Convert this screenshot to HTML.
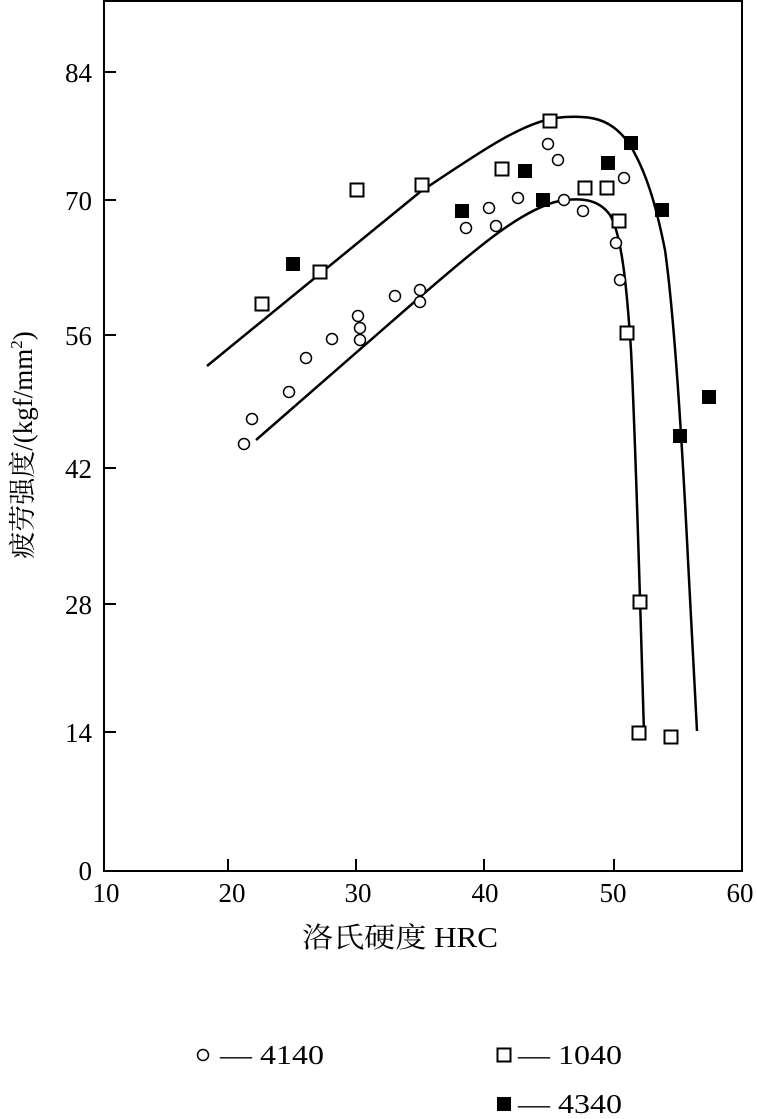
<!DOCTYPE html>
<html><head><meta charset="utf-8"><style>
body{margin:0;background:#fff}
svg text{font-family:"Liberation Serif","Noto Serif CJK SC",serif;fill:#000}
</style></head><body>
<svg width="757" height="1114" viewBox="0 0 757 1114" xmlns="http://www.w3.org/2000/svg">
<rect x="104" y="1" width="638" height="870" fill="none" stroke="#000" stroke-width="2"/>
<g stroke="#000" stroke-width="2">
<line x1="104" y1="72" x2="116" y2="72"/><line x1="104" y1="200" x2="116" y2="200"/>
<line x1="104" y1="335" x2="116" y2="335"/><line x1="104" y1="468" x2="116" y2="468"/>
<line x1="104" y1="604" x2="116" y2="604"/><line x1="104" y1="732" x2="116" y2="732"/>
<line x1="228" y1="871" x2="228" y2="859"/><line x1="356" y1="871" x2="356" y2="859"/>
<line x1="484" y1="871" x2="484" y2="859"/><line x1="614" y1="871" x2="614" y2="859"/>
</g>
<g font-size="27" text-anchor="end">
<text x="92" y="82">84</text><text x="92" y="210">70</text><text x="92" y="345">56</text>
<text x="92" y="478">42</text><text x="92" y="614">28</text><text x="92" y="742">14</text>
<text x="92" y="880">0</text>
</g>
<g font-size="27" text-anchor="middle">
<text x="106" y="902">10</text><text x="232" y="902">20</text><text x="358" y="902">30</text>
<text x="485" y="902">40</text><text x="613" y="902">50</text><text x="740" y="902">60</text>
</g>
<text x="400" y="947" font-size="28" text-anchor="middle" textLength="196" lengthAdjust="spacingAndGlyphs">洛氏硬度 HRC</text>
<text transform="translate(32,445) rotate(-90)" font-size="27" text-anchor="middle">疲劳强度/(kgf/mm<tspan font-size="17" dy="-10">2</tspan><tspan dy="10">)</tspan></text>
<g fill="none" stroke="#000" stroke-width="2.5">
<path d="M207,366 L420,192 C480,152 520,124 555,118 C590,114 612,118 630,145 C645,170 655,200 665,250 C672,300 680,400 688,560 L697,731"/>
<path d="M256,440 L420,297 C480,245 520,212 555,202 C578,197 598,198 610,215 C622,235 627,290 631,350 C636,450 640,600 644,733"/>
</g>
<g fill="#fff" stroke="#000" stroke-width="1.5">
<circle cx="244" cy="444" r="5.5"/><circle cx="252" cy="419" r="5.5"/><circle cx="289" cy="392" r="5.5"/>
<circle cx="306" cy="358" r="5.5"/><circle cx="332" cy="339" r="5.5"/><circle cx="358" cy="316" r="5.5"/>
<circle cx="360" cy="328" r="5.5"/><circle cx="360" cy="340" r="5.5"/><circle cx="395" cy="296" r="5.5"/>
<circle cx="420" cy="290" r="5.5"/><circle cx="420" cy="302" r="5.5"/><circle cx="466" cy="228" r="5.5"/>
<circle cx="489" cy="208" r="5.5"/><circle cx="496" cy="226" r="5.5"/><circle cx="518" cy="198" r="5.5"/>
<circle cx="548" cy="144" r="5.5"/><circle cx="558" cy="160" r="5.5"/><circle cx="564" cy="200" r="5.5"/>
<circle cx="583" cy="211" r="5.5"/><circle cx="616" cy="243" r="5.5"/><circle cx="620" cy="280" r="5.5"/>
<circle cx="624" cy="178" r="5.5"/>
</g>
<g fill="#fff" stroke="#000" stroke-width="2">
<rect x="255.5" y="297.5" width="13" height="13"/><rect x="313.5" y="265.5" width="13" height="13"/>
<rect x="350.5" y="183.5" width="13" height="13"/><rect x="415.5" y="178.5" width="13" height="13"/>
<rect x="495.5" y="162.5" width="13" height="13"/><rect x="543.5" y="114.5" width="13" height="13"/>
<rect x="578.5" y="181.5" width="13" height="13"/><rect x="600.5" y="181.5" width="13" height="13"/>
<rect x="612.5" y="214.5" width="13" height="13"/><rect x="620.5" y="326.5" width="13" height="13"/>
<rect x="633.5" y="595.5" width="13" height="13"/><rect x="632.5" y="726.5" width="13" height="13"/>
<rect x="664.5" y="730.5" width="13" height="13"/>
</g>
<g fill="#000">
<rect x="286" y="257" width="14" height="14"/><rect x="455" y="204" width="14" height="14"/>
<rect x="518" y="164" width="14" height="14"/><rect x="536" y="193" width="14" height="14"/>
<rect x="601" y="156" width="14" height="14"/><rect x="624" y="136" width="14" height="14"/>
<rect x="655" y="203" width="14" height="14"/><rect x="673" y="429" width="14" height="14"/>
<rect x="702" y="390" width="14" height="14"/>
</g>
<circle cx="203" cy="1055" r="5.5" fill="#fff" stroke="#000" stroke-width="1.5"/>
<text x="220" y="1064" font-size="27" textLength="104" lengthAdjust="spacingAndGlyphs">— 4140</text>
<rect x="497.5" y="1048.5" width="13" height="13" fill="#fff" stroke="#000" stroke-width="2"/>
<text x="518" y="1064" font-size="27" textLength="104" lengthAdjust="spacingAndGlyphs">— 1040</text>
<rect x="497" y="1097" width="14" height="14" fill="#000"/>
<text x="518" y="1113" font-size="27" textLength="104" lengthAdjust="spacingAndGlyphs">— 4340</text>
</svg>
</body></html>
